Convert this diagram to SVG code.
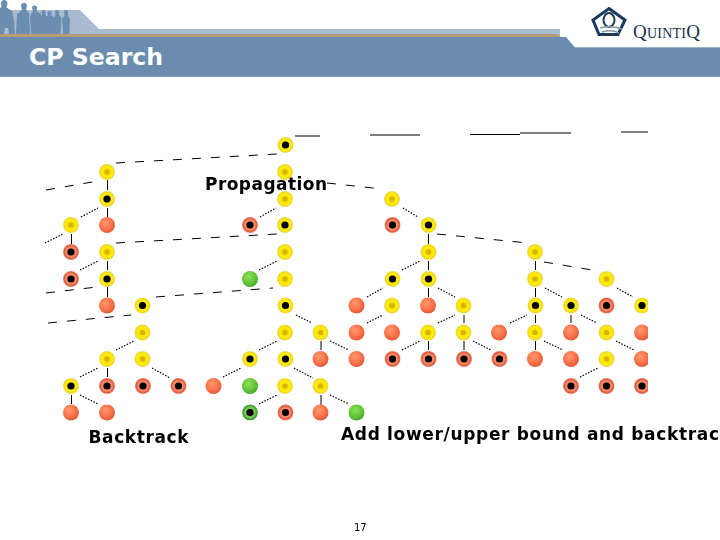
<svg xmlns="http://www.w3.org/2000/svg" width="720" height="540" viewBox="0 0 720 540">
<style>
.s{stroke:#000;stroke-width:1;fill:none}
.o{stroke:#000;stroke-width:1.2;fill:none;stroke-dasharray:1.5 1.5}
.d{stroke:#000;stroke-width:1;fill:none;stroke-dasharray:9 10}
.t{font-family:"DejaVu Sans",Verdana,sans-serif;font-weight:bold;fill:#000;font-size:17px}
.p{fill:#6b8db0}
</style>
<defs>
<radialGradient id="gy" cx="50%" cy="50%" r="50%"><stop offset="0" stop-color="#e8c800"/><stop offset=".3" stop-color="#f5dc00"/><stop offset=".65" stop-color="#ffee10"/><stop offset=".88" stop-color="#f0d820"/><stop offset="1" stop-color="#efe070"/></radialGradient>
<radialGradient id="gr" cx="40%" cy="35%" r="70%"><stop offset="0" stop-color="#ff9a70"/><stop offset=".6" stop-color="#fb7048"/><stop offset="1" stop-color="#d85a3a"/></radialGradient>
<radialGradient id="grb" cx="50%" cy="50%" r="50%"><stop offset="0" stop-color="#ff7a50"/><stop offset=".6" stop-color="#f88a68"/><stop offset=".85" stop-color="#de5c40"/><stop offset="1" stop-color="#e89078"/></radialGradient>
<radialGradient id="gg" cx="42%" cy="35%" r="70%"><stop offset="0" stop-color="#8ee25a"/><stop offset=".6" stop-color="#62c53a"/><stop offset="1" stop-color="#3f9f28"/></radialGradient>
<radialGradient id="ggb" cx="50%" cy="50%" r="50%"><stop offset="0" stop-color="#60c038"/><stop offset=".65" stop-color="#74c858"/><stop offset=".88" stop-color="#3f9a30"/><stop offset="1" stop-color="#78b868"/></radialGradient>
<filter id="b" x="-5%" y="-5%" width="110%" height="110%"><feGaussianBlur stdDeviation="0.35"/></filter>
<g id="y"><circle r="8" fill="url(#gy)"/><circle r="2.6" fill="#d8b400"/></g>
<g id="yb"><circle r="8" fill="url(#gy)"/><circle r="3.6" fill="#000"/></g>
<g id="r"><circle r="8" fill="url(#gr)"/></g>
<g id="rb"><circle r="8" fill="url(#grb)"/><circle r="3.6" fill="#000"/></g>
<g id="g"><circle r="8" fill="url(#gg)"/></g>
<g id="gb"><circle r="8" fill="url(#ggb)"/><circle r="3.6" fill="#000"/></g>
<clipPath id="c"><rect x="0" y="100" width="648" height="340"/></clipPath>
</defs>
<rect width="720" height="540" fill="#fff"/>
<g id="header">
<path d="M0 10H80L99 29H560V47L575 47.500H720V77H0Z" fill="#a9bbd0"/>
<path d="M0 37H566L575 47.500H720V77H0Z" fill="#6b8cae"/>
<path d="M0 34H558L561 37H0Z" fill="#b59c76"/>
<rect y="76" width="720" height="1" fill="#7f9ab5"/>
<g id="people" class="p">
<path d="M1 3.500Q1 0 4 0Q7.500 0 7.500 3.500L6.500 7.500L12 11L14 20L15 34H9L8 28H5L4 34H0V8L1.500 7Z"/>
<path d="M21 6Q21 3 24 3Q27 3 27 6L26 10L29 13L30 34H16L17 14L22 10Z"/>
<path d="M32 8Q32 5.500 34.500 5.500Q37 5.500 37 8L36.500 11L41 14L43 34H31L30 16L33 11Z"/>
<path d="M41.500 12Q41.500 10 43.500 10Q45.500 10 45.500 12L45.500 15L47.500 18L48 34H40L40 17L42 15Z"/>
<path d="M47.500 13Q47.500 11 49.500 11Q51.500 11 51.500 13L51.500 15L54.500 18L55 34H45L45.500 18L48 15Z"/>
<path d="M55 12Q55 10 57 10Q59 10 59 12L59 15L61.500 18L60.500 34H54L53.500 18L55.500 15Z"/>
<path d="M64 12Q64 10 66 10Q68 10 68 12L68 15.500L70 19L69.500 34H63L62 19L64.500 15.500Z"/>
</g>
<g id="logo">
<path d="M609 8.500L625 20L618 34.500H599L593 20Z" fill="#fff" stroke="#1c3a5e" stroke-width="3"/>
<ellipse cx="609" cy="20" rx="5.500" ry="7" fill="none" stroke="#1c3a5e" stroke-width="2"/>
<path d="M600 28Q610 25 622 29M602 32Q612 29 619 33" fill="none" stroke="#8a98a8" stroke-width="1.500"/>
<text x="633" y="38" font-family="'Liberation Serif',serif" font-size="14" fill="#16304f" textLength="67"><tspan font-size="19">Q</tspan>UINTI<tspan font-size="19">Q</tspan></text>
</g>
<text x="29" y="65" font-family="'DejaVu Sans',Verdana,sans-serif" font-weight="bold" font-size="23" fill="#fff" textLength="134" lengthAdjust="spacingAndGlyphs">CP Search</text>
</g>
<g id="connectors">
<path class="s" d="M295 136H320M370 135H420M470 134.500H520M520 133H571M621 132H648"/>
<path class="s" d="M71.500 234V244M71.500 395V404M107.500 180V190M107.500 208V217M107.500 261V270M107.500 287V297M107.500 368V377M321 341V350M321 395V405M428.500 234V244M428.500 261V270M428.500 288V297M428.500 341V350M464 315V323M464 341V350M535.500 261V270M535.500 288V297M535.500 315V323M535.500 341V350M571 315V323"/>
<path class="d" d="M116 163L277 154M46 190L98 181M116 243L277 234M46 293L97 287M156 297L273 288M48 323L131 315M327 183L382 189M437 234L528 243M544 262L598 271"/>
<path class="o" d="M81 217L98 208M45 243L63 234M80 270L98 261M116 350L134 341M80 377L98 368M152 368L170 378M80 395L98 404M223 377L241 368M260 217L276 208M403 208L418 217M402 270L420 261M259 270L277 261M367 297L383 288M367 323L383 315M438 288L455 297M438 323L455 315M473 341L491 350M296 315L312 323M330 341L349 350M259 350L277 341M294 368L313 378M259 404L277 395M330 395L349 404M402 350L420 341M510 323L527 315M545 288L562 297M544 341L563 350M581 315L597 323M617 288L633 297M616 341L634 350M580 377L598 368"/>
</g>
<g id="nodes" clip-path="url(#c)"><g filter="url(#b)">
<g id="n1"><use href="#yb" x="285.500" y="145"/></g>
<g id="n2"><use href="#y" x="107" y="172"/></g>
<g id="n3"><use href="#y" x="285" y="172"/></g>
<g id="n4"><use href="#yb" x="107" y="199"/></g>
<g id="n5"><use href="#y" x="285" y="199"/></g>
<g id="n6"><use href="#y" x="392" y="199"/></g>
<g id="n7"><use href="#y" x="71" y="225"/></g>
<g id="n8"><use href="#r" x="107" y="225"/></g>
<g id="n9"><use href="#rb" x="250" y="225"/></g>
<g id="n10"><use href="#yb" x="285" y="225"/></g>
<g id="n11"><use href="#rb" x="392.500" y="225"/></g>
<g id="n12"><use href="#yb" x="428.500" y="225"/></g>
<g id="n13"><use href="#rb" x="71" y="252"/></g>
<g id="n14"><use href="#y" x="107" y="252"/></g>
<g id="n15"><use href="#y" x="285" y="252"/></g>
<g id="n16"><use href="#y" x="428.500" y="252"/></g>
<g id="n17"><use href="#y" x="535" y="252"/></g>
<g id="n18"><use href="#rb" x="71" y="279"/></g>
<g id="n19"><use href="#yb" x="107" y="279"/></g>
<g id="n20"><use href="#g" x="250" y="279"/></g>
<g id="n21"><use href="#y" x="285" y="279"/></g>
<g id="n22"><use href="#yb" x="392.500" y="279"/></g>
<g id="n23"><use href="#yb" x="428.500" y="279"/></g>
<g id="n24"><use href="#y" x="535" y="279"/></g>
<g id="n25"><use href="#y" x="606.500" y="279"/></g>
<g id="n26"><use href="#r" x="107" y="305.500"/></g>
<g id="n27"><use href="#yb" x="142.500" y="305.500"/></g>
<g id="n28"><use href="#yb" x="285.500" y="305.500"/></g>
<g id="n29"><use href="#r" x="356.500" y="305.500"/></g>
<g id="n30"><use href="#y" x="392" y="305.500"/></g>
<g id="n31"><use href="#r" x="428" y="305.500"/></g>
<g id="n32"><use href="#y" x="463.500" y="305.500"/></g>
<g id="n33"><use href="#yb" x="535.500" y="305.500"/></g>
<g id="n34"><use href="#yb" x="571" y="305.500"/></g>
<g id="n35"><use href="#rb" x="606.500" y="305.500"/></g>
<g id="n36"><use href="#yb" x="642" y="305.500"/></g>
<g id="n37"><use href="#y" x="142.500" y="332.500"/></g>
<g id="n38"><use href="#y" x="285" y="332.500"/></g>
<g id="n39"><use href="#y" x="320.500" y="332.500"/></g>
<g id="n40"><use href="#r" x="356.500" y="332.500"/></g>
<g id="n41"><use href="#r" x="392" y="332.500"/></g>
<g id="n42"><use href="#y" x="428" y="332.500"/></g>
<g id="n43"><use href="#y" x="463.500" y="332.500"/></g>
<g id="n44"><use href="#r" x="499" y="332.500"/></g>
<g id="n45"><use href="#y" x="535" y="332.500"/></g>
<g id="n46"><use href="#r" x="571" y="332.500"/></g>
<g id="n47"><use href="#y" x="606.500" y="332.500"/></g>
<g id="n48"><use href="#r" x="642" y="332.500"/></g>
<g id="n49"><use href="#y" x="107" y="359"/></g>
<g id="n50"><use href="#y" x="142.500" y="359"/></g>
<g id="n51"><use href="#yb" x="250" y="359"/></g>
<g id="n52"><use href="#yb" x="285.500" y="359"/></g>
<g id="n53"><use href="#r" x="320.500" y="359"/></g>
<g id="n54"><use href="#r" x="356.500" y="359"/></g>
<g id="n55"><use href="#rb" x="392.500" y="359"/></g>
<g id="n56"><use href="#rb" x="428.500" y="359"/></g>
<g id="n57"><use href="#rb" x="464" y="359"/></g>
<g id="n58"><use href="#rb" x="499.500" y="359"/></g>
<g id="n59"><use href="#r" x="535" y="359"/></g>
<g id="n60"><use href="#r" x="571" y="359"/></g>
<g id="n61"><use href="#y" x="606.500" y="359"/></g>
<g id="n62"><use href="#r" x="642" y="359"/></g>
<g id="n63"><use href="#yb" x="71" y="386"/></g>
<g id="n64"><use href="#rb" x="107" y="386"/></g>
<g id="n65"><use href="#rb" x="143" y="386"/></g>
<g id="n66"><use href="#rb" x="178.500" y="386"/></g>
<g id="n67"><use href="#r" x="213.500" y="386"/></g>
<g id="n68"><use href="#g" x="250" y="386"/></g>
<g id="n69"><use href="#y" x="285" y="386"/></g>
<g id="n70"><use href="#y" x="320.500" y="386"/></g>
<g id="n71"><use href="#rb" x="571" y="386"/></g>
<g id="n72"><use href="#rb" x="606.500" y="386"/></g>
<g id="n73"><use href="#rb" x="642" y="386"/></g>
<g id="n74"><use href="#r" x="71" y="412.500"/></g>
<g id="n75"><use href="#r" x="107" y="412.500"/></g>
<g id="n76"><use href="#gb" x="250" y="412.500"/></g>
<g id="n77"><use href="#rb" x="285.500" y="412.500"/></g>
<g id="n78"><use href="#r" x="320.500" y="412.500"/></g>
<g id="n79"><use href="#g" x="356.500" y="412.500"/></g>
</g></g>
<text class="t" x="205" y="190" textLength="122">Propagation</text>
<text class="t" x="88.500" y="443" textLength="100">Backtrack</text>
<text class="t" x="341" y="440" textLength="378">Add lower/upper bound and backtrac</text>
<text x="354" y="531" font-family="'DejaVu Sans',Verdana,sans-serif" font-size="10" fill="#000">17</text>
</svg>
